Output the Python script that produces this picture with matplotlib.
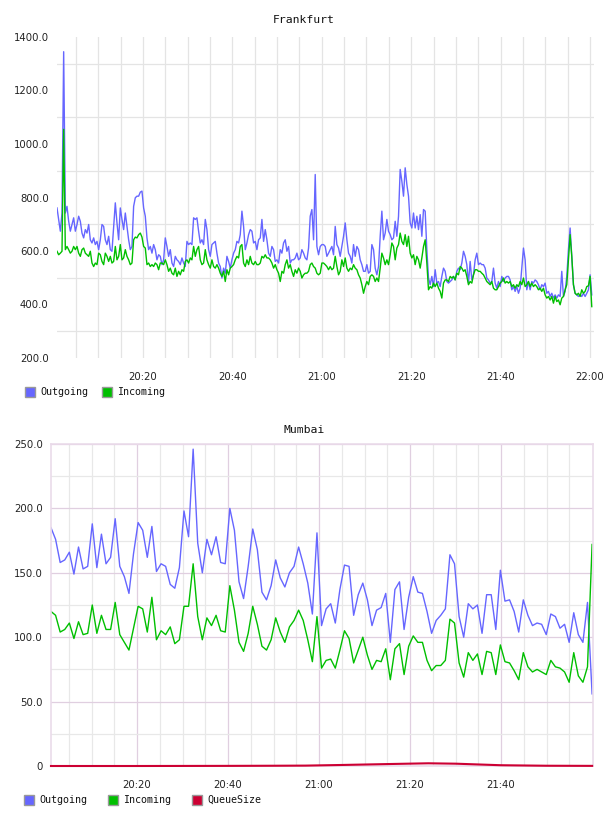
import matplotlib
matplotlib.use("Agg")
import matplotlib.pyplot as plt
from matplotlib.patches import Rectangle
import numpy as np

# --- Frankfurt data (one sample about every 22 s, 20:01 .. 22:00) ---
fra_out = [
    761, 718, 674, 742, 1345, 742, 767, 711, 674, 699, 724, 674, 699, 730, 711, 667, 649, 680, 667, 699,
    642, 630, 649, 624, 636, 605, 642, 699, 692, 642, 624, 655, 605, 599, 692, 780, 705, 642, 761, 718,
    680, 742, 692, 642, 605, 617, 767, 799, 805, 805, 820, 824, 761, 730, 649, 605, 617, 592, 624, 605,
    567, 586, 580, 549, 567, 649, 617, 580, 605, 555, 542, 580, 567, 561, 549, 574, 555, 542, 636, 624,
    630, 624, 724,
    718, 724, 674, 630, 642, 624, 718, 680, 605, 580, 624, 630, 636, 592, 555, 542, 499, 536, 517, 580,
    561, 536, 567, 592, 605, 636, 630, 661, 749, 692, 605, 630, 661, 680, 674, 630, 636, 605, 642, 649,
    718, 636, 680, 642, 592, 580, 617, 605, 561, 567, 555, 605, 592, 630, 642, 599, 617, 555, 567, 567,
    574, 592, 567, 574, 605, 592, 574, 567, 611, 730, 755, 642, 886, 617, 586, 617, 624, 624, 617, 580,
    592,
    605, 617, 586, 692, 624, 611, 580, 617, 655, 705, 642, 592, 580, 555, 624, 580, 617, 605, 567, 549,
    524, 524, 549, 517, 524, 624, 605, 536, 511, 542, 655, 749, 642, 667, 718, 674, 661, 642, 649, 711,
    655, 730, 905, 861, 805, 911, 849, 805, 705, 686, 742, 686, 730, 680, 736, 655, 755, 749, 605, 499,
    474, 505, 467, 530, 480, 486, 467, 505, 536, 524, 486, 480, 486, 492, 505, 492, 524, 536, 530, 555,
    599,
    580, 549, 480, 561, 492, 511, 567, 592, 549, 555, 549, 549, 536, 499, 492, 480, 486, 536, 480, 461,
    486, 467, 505, 486, 499, 505, 505, 492, 455, 467, 449, 467, 442, 461, 536, 611, 567, 455, 486, 455,
    486, 480, 492, 486, 474, 455, 474, 467, 480, 442, 449, 430, 442, 424, 436, 424, 436, 430, 524, 430,
    449, 505, 605, 686, 580, 474, 442, 436, 430, 436, 430, 442, 430, 442, 455, 511, 436,
]
fra_in = [
    599, 586, 592, 599, 1055, 605, 617, 605, 592, 599, 617, 605, 617, 592, 580, 605, 611, 592, 586, 580,
    599, 555, 542, 555, 549, 592, 586, 561, 549, 592, 580, 561, 580, 555, 561, 617, 567, 580, 624, 567,
    574, 605, 580, 567, 549, 555, 642, 652, 649, 661, 667, 652, 617, 611, 549, 555, 542, 549, 542, 555,
    549, 530, 555, 555, 549, 567, 549, 524, 536, 517, 511, 536, 505, 524, 511, 530, 524, 561, 567, 555,
    574, 567, 617,
    580, 605, 617, 567, 549, 555, 605, 567, 549, 536, 567, 542, 536, 549, 536, 517, 505, 524, 486, 530,
    511, 536, 542, 549, 567, 580, 574, 617, 624, 555, 542, 567, 549, 580, 555, 549, 561, 549, 549, 555,
    580, 574, 586, 574, 574, 567, 555, 536, 549, 530, 517, 486, 524, 517, 549, 567, 536, 549, 524, 505,
    530, 517, 536, 524, 499, 511, 517, 517, 524, 549, 555, 542, 536, 517, 511, 517, 555, 555, 549, 542,
    530,
    542, 530, 536, 580, 542, 511, 524, 567, 542, 574, 536, 524, 536, 530, 549, 536, 530, 511, 499, 474,
    442, 467, 486, 474, 505, 511, 505, 486, 499, 486, 536, 592, 574, 549, 567, 549, 586, 630, 617, 567,
    611, 624, 667, 636, 624, 661, 617, 655, 592, 574, 586, 549, 580, 567, 536, 574, 617, 642, 555, 455,
    467, 461, 480, 467, 480, 461, 449, 424, 480, 492, 492, 486, 505, 499, 505, 492, 517, 511, 542, 536,
    524,
    530, 505, 474, 486, 480, 511, 530, 530, 524, 524, 517, 511, 499, 486, 480, 474, 486, 461, 455, 455,
    467, 480, 486, 499, 480, 486, 480, 486, 467, 474, 461, 474, 467, 486, 474, 499, 467, 474, 486, 467,
    480, 467, 474, 467, 455, 461, 449, 461, 436, 424, 430, 417, 430, 405, 430, 411, 417, 399, 424, 430,
    455, 474, 567, 661, 580, 474, 442, 436, 442, 430, 455, 442, 449, 467, 470, 505, 392,
]

# --- Mumbai data (one sample per minute) ---
mum_out = [
    185, 176, 158, 160, 166, 149, 170, 153, 155, 188, 154, 180, 157, 162, 192, 155, 147, 134, 165, 189,
    183, 162, 186, 151, 157, 155, 141, 138, 154, 198, 178, 246, 173, 150, 176, 164, 178, 158, 157, 200,
    183, 143, 130, 155, 184, 168, 135, 129, 140, 160, 146, 139, 150, 155, 170, 157,
    142, 118, 181, 109, 122, 126, 111, 137, 156, 155, 117, 133, 142, 129, 109, 121, 123, 134, 96, 137,
    143, 106, 131, 147, 135, 134, 120, 103, 113, 117, 122, 164, 157, 116, 100, 126, 122, 125, 103, 133,
    133, 106, 152, 128, 129, 120, 104, 129, 117, 109, 111, 110, 102, 118, 116, 107, 110, 96, 119, 102,
    96, 127, 56,
]
mum_in = [
    120, 117, 104, 106, 111, 99, 112, 102, 103, 125, 103, 117, 106, 106, 127, 102, 96, 90, 107, 124,
    122, 104, 131, 98, 105, 102, 108, 95, 98, 124, 124, 157, 116, 98, 115, 109, 117, 105, 104, 140,
    121, 96, 89, 103, 124, 110, 93, 90, 98, 115, 104, 96, 108, 113, 121, 113,
    98, 81, 116, 76, 82, 83, 76, 90, 105, 99, 80, 90, 100, 86, 75, 82, 81, 91, 67, 91,
    95, 71, 93, 101, 96, 96, 82, 74, 78, 78, 82, 114, 111, 80, 69, 88, 82, 87, 71, 89,
    88, 71, 94, 81, 80, 74, 67, 88, 77, 73, 75, 73, 71, 82, 77, 76, 73, 65, 88, 70,
    65, 77, 172,
]
queue_t = [1.1, 20, 40, 50, 57, 65, 75, 84, 90, 100, 110, 120]
queue_v = [0, 0, 0.1, 0.2, 0.3, 0.8, 1.5, 2.1, 1.8, 0.6, 0.2, 0.1]

# minutes after 20:00
fra_t = np.linspace(0.76, 120.4, len(fra_out))
mum_t = np.linspace(1.1, 120.0, len(mum_out))

time_ticks = [20, 40, 60, 80, 100, 120]
time_labels = ["20:20", "20:40", "21:00", "21:20", "21:40", "22:00"]

C_OUT = "#6666ff"
C_IN = "#00bf00"
C_Q = "#cc0033"

fig = plt.figure(figsize=(6.08, 8.16), dpi=100)
W, H = 608.0, 816.0


def axes_px(l, t, r, b):
    return fig.add_axes([l / W, 1 - b / H, (r - l) / W, (b - t) / H])


def legend(y, items):
    for x, col, name in items:
        fig.patches.append(Rectangle((x / W, 1 - (y + 5) / H), 10 / W, 10 / H,
                                     transform=fig.transFigure, facecolor=col,
                                     edgecolor="#999999", lw=1.0))
        fig.text((x + 15) / W, 1 - y / H, name, family="DejaVu Sans Mono",
                 fontsize=7.2, va="center", ha="left", color="#111111")


tick_font = dict(family="DejaVu Sans", size=7.3)

# --- Frankfurt ---
ax1 = axes_px(57, 37, 594, 358)
ax1.plot(fra_t, fra_out, color=C_OUT, lw=1.0)
ax1.plot(fra_t, fra_in, color=C_IN, lw=1.0)
ax1.set_xlim(0.76, 120.9)
ax1.set_ylim(200, 1400)
ax1.set_xticks(time_ticks)
ax1.set_xticklabels(time_labels)
ax1.set_xticks(np.arange(5, 121, 5), minor=True)
ax1.set_yticks(np.arange(200, 1401, 200))
ax1.set_yticklabels([f"{v:.1f}" for v in range(200, 1401, 200)])
ax1.set_yticks(np.arange(300, 1400, 200), minor=True)
ax1.grid(True, axis="x", which="both", color="#e4e4e4", lw=0.9)
ax1.grid(True, axis="y", which="minor", color="#e4e4e4", lw=0.9)
ax1.set_axisbelow(True)
for s in ax1.spines.values():
    s.set_visible(False)
ax1.tick_params(which="both", length=0)
ax1.tick_params(axis="y", pad=6)
ax1.tick_params(axis="x", pad=10)
for lab in ax1.get_xticklabels() + ax1.get_yticklabels():
    lab.set_fontfamily(tick_font["family"])
    lab.set_fontsize(tick_font["size"])
    lab.set_color("#222222")
fig.text(304 / W, 1 - 20 / H, "Frankfurt", family="DejaVu Sans Mono", fontsize=8.2,
         ha="center", va="center", color="#111111")
legend(392, [(25, C_OUT, "Outgoing"), (102, C_IN, "Incoming")])

# --- Mumbai ---
ax2 = axes_px(51, 444, 593, 766)
ax2.plot(mum_t, mum_out, color=C_OUT, lw=1.0)
ax2.plot(mum_t, mum_in, color=C_IN, lw=1.0)
ax2.plot(queue_t, queue_v, color=C_Q, lw=1.5, clip_on=False, zorder=4)
ax2.set_xlim(1.1, 120.2)
ax2.set_ylim(0, 250)
ax2.set_xticks(time_ticks[:-1])
ax2.set_xticklabels(time_labels[:-1])
ax2.set_xticks(np.arange(5, 120, 5), minor=True)
ax2.set_yticks(np.arange(0, 251, 50))
ax2.set_yticklabels(["0"] + [f"{v:.1f}" for v in range(50, 251, 50)])
ax2.set_yticks(np.arange(25, 250, 50), minor=True)
ax2.grid(True, which="minor", color="#e8e8e8", lw=0.9)
ax2.grid(True, which="major", color="#e0cfe0", lw=0.9)
ax2.set_axisbelow(True)
for s in ax2.spines.values():
    s.set_color("#eadbea")
    s.set_linewidth(1.2)
ax2.tick_params(which="both", length=0)
ax2.tick_params(axis="y", pad=6)
ax2.tick_params(axis="x", pad=10)
for lab in ax2.get_xticklabels() + ax2.get_yticklabels():
    lab.set_fontfamily(tick_font["family"])
    lab.set_fontsize(tick_font["size"])
    lab.set_color("#222222")
fig.text(304 / W, 1 - 430 / H, "Mumbai", family="DejaVu Sans Mono", fontsize=8.2,
         ha="center", va="center", color="#111111")
legend(800, [(24, C_OUT, "Outgoing"), (108, C_IN, "Incoming"), (192, C_Q, "QueueSize")])

fig.savefig("out.png", dpi=100)
